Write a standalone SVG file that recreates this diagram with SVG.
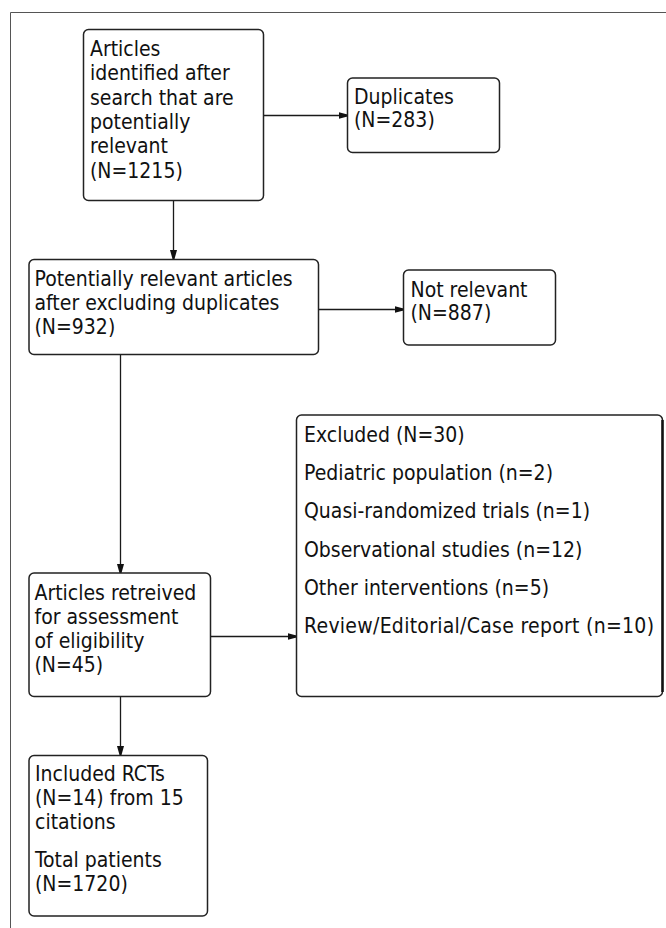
<svg xmlns="http://www.w3.org/2000/svg" width="666" height="928" viewBox="0 0 666 928">
<style>
  .box { fill: #fff; stroke: #222; stroke-width: 1.5; }
  .frame { stroke: #555; stroke-width: 1; fill: none; }
  .conn { stroke: #1a1a1a; stroke-width: 1.3; fill: none; }
  text { font-family: "DejaVu Sans Condensed", "DejaVu Sans", sans-serif; font-stretch: condensed; font-size: 21px; fill: #111; }
</style>
<defs>
  <marker id="arr" viewBox="0 0 9 9" refX="9" refY="4.5" markerWidth="9" markerHeight="9" markerUnits="userSpaceOnUse" orient="auto">
    <path d="M0,1 L9,3.5 L9,5.5 L0,8 Z" fill="#111"/>
  </marker>
</defs>
<rect width="666" height="928" fill="#fff"/>
<g id="frame">
  <path class="frame" d="M10.5,928 V12.5 H666"/>
</g>
<g id="connectors">
  <line class="conn" x1="173.5" y1="200.5" x2="173.5" y2="259" marker-end="url(#arr)"/>
  <line class="conn" x1="263.5" y1="115.5" x2="347.5" y2="115.5" marker-end="url(#arr)"/>
  <line class="conn" x1="318.5" y1="309.5" x2="403.5" y2="309.5" marker-end="url(#arr)"/>
  <line class="conn" x1="120.5" y1="354.5" x2="120.5" y2="573" marker-end="url(#arr)"/>
  <line class="conn" x1="210.5" y1="636.5" x2="296.5" y2="636.5" marker-end="url(#arr)"/>
  <line class="conn" x1="120.5" y1="696.5" x2="120.5" y2="755" marker-end="url(#arr)"/>
</g>
<g id="n1">
  <rect class="box" x="83.5" y="29.5" width="180" height="171" rx="5"/>
  <text x="90" y="56">Articles</text>
  <text x="90" y="80.3">identified after</text>
  <text x="90" y="104.6">search that are</text>
  <text x="90" y="128.9">potentially</text>
  <text x="90" y="153.2">relevant</text>
  <text x="90" y="177.5">(N=1215)</text>
</g>
<g id="n2">
  <rect class="box" x="347.5" y="78" width="152" height="74.5" rx="5"/>
  <text x="354" y="104">Duplicates</text>
  <text x="354" y="127">(N=283)</text>
</g>
<g id="n3">
  <rect class="box" x="29" y="259.5" width="289.5" height="95" rx="5"/>
  <text x="34.5" y="285.5">Potentially relevant articles</text>
  <text x="34.5" y="309.5">after excluding duplicates</text>
  <text x="34.5" y="333.5">(N=932)</text>
</g>
<g id="n4">
  <rect class="box" x="403.5" y="270" width="152" height="75" rx="5"/>
  <text x="410.5" y="296.5">Not relevant</text>
  <text x="410.5" y="319.5">(N=887)</text>
</g>
<g id="n5">
  <rect class="box" x="29" y="573" width="181.5" height="123.5" rx="5"/>
  <text x="34.5" y="599.5">Articles retreived</text>
  <text x="34.5" y="623.5">for assessment</text>
  <text x="34.5" y="647.5">of eligibility</text>
  <text x="34.5" y="671.5">(N=45)</text>
</g>
<g id="n6">
  <rect class="box" x="296.5" y="415" width="366" height="281.5" rx="5"/>
  <line x1="662.5" y1="420" x2="662.5" y2="692" stroke="#111" stroke-width="2.5"/>
  <text x="304" y="441.5">Excluded (N=30)</text>
  <text x="304" y="480">Pediatric population (n=2)</text>
  <text x="304" y="518.3">Quasi-randomized trials (n=1)</text>
  <text x="304" y="556.6">Observational studies (n=12)</text>
  <text x="304" y="594.9">Other interventions (n=5)</text>
  <text x="304" y="633.2" textLength="350" lengthAdjust="spacing">Review/Editorial/Case report (n=10)</text>
</g>
<g id="n7">
  <rect class="box" x="29" y="755.5" width="178.5" height="160.5" rx="5"/>
  <text x="35" y="781">Included RCTs</text>
  <text x="35" y="805">(N=14) from 15</text>
  <text x="35" y="829">citations</text>
  <text x="35" y="867">Total patients</text>
  <text x="35" y="891">(N=1720)</text>
</g>
</svg>
